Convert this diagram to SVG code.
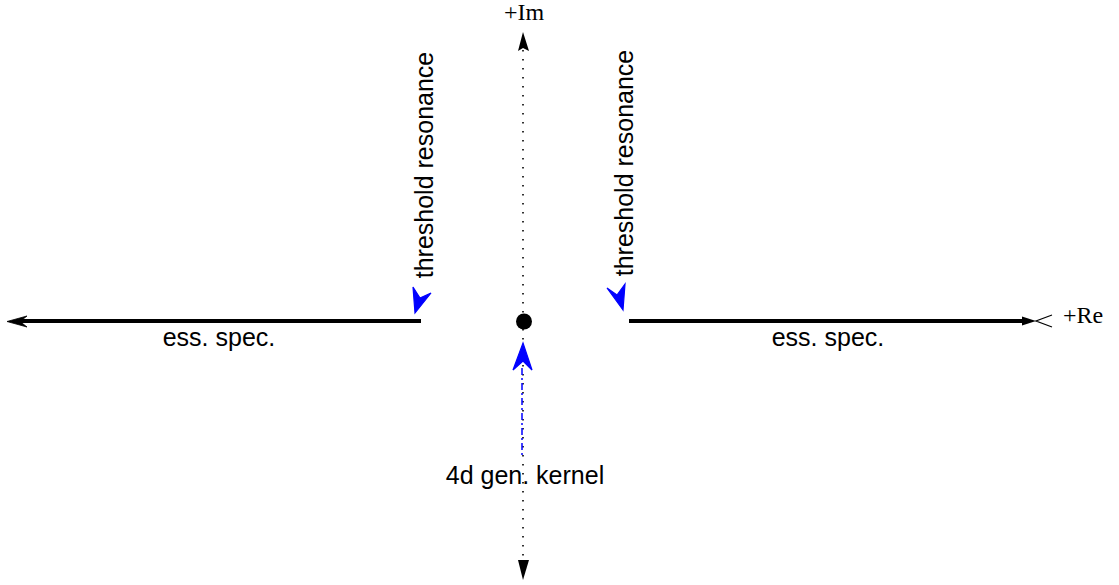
<svg xmlns="http://www.w3.org/2000/svg" width="1119" height="585" viewBox="0 0 1119 585">
<style>
.sans{font-family:"Liberation Sans",Arial,sans-serif;font-size:25px;fill:#000}
.serif{font-family:"Liberation Serif","Times New Roman",serif;font-size:24px;fill:#000}
.axis{stroke:#000;stroke-width:1.6;stroke-dasharray:1.6 7.4;fill:none}
.thick{stroke:#000;stroke-width:4;fill:none}
.blue{fill:#0000ff;stroke:#0000ff;stroke-width:1.2}
</style>
<rect width="1119" height="585" fill="#fff"/>
<g id="connectors">
  <line class="axis" x1="523" y1="50" x2="523" y2="560"/>
  <polygon points="523,32 529,51 523,48 518,51" fill="#000"/>
  <polygon points="523,580 518,560 529,560" fill="#000"/>
  <line class="thick" x1="421" y1="321" x2="20" y2="321"/>
  <polygon points="27,316 7,321.5 27,327 20,321.5" fill="#000" stroke="#000" stroke-width="0.8"/>
  <line class="thick" x1="629" y1="321" x2="1024" y2="321"/>
  <polygon points="1022,316.5 1036,321 1022,325.5" fill="#000"/>
  <polyline points="1052,315 1036,321 1052,327" fill="none" stroke="#000" stroke-width="1.2"/>
  <line x1="522" y1="368" x2="522" y2="456" stroke="#0000ff" stroke-width="1.5" stroke-dasharray="7 3 2 3"/>
  <polygon class="blue" points="523,343 532,370 523,361 513,370"/>
  <polygon class="blue" points="415,313 413,287 420,298 431,293"/>
  <polygon class="blue" points="623,310 607,288 617,295 625,284"/>
</g>
<g id="origin"><circle cx="524" cy="321.5" r="8" fill="#000"/></g>
<g id="im-label"><text class="serif" x="524" y="20" text-anchor="middle">+Im</text></g>
<g id="re-label"><text class="serif" x="1063" y="323">+Re</text></g>
<g id="ess-left"><text class="sans" x="219" y="346" text-anchor="middle">ess. spec.</text></g>
<g id="ess-right"><text class="sans" x="828" y="346" text-anchor="middle">ess. spec.</text></g>
<g id="kernel"><text class="sans" x="525" y="484" text-anchor="middle">4d gen. kernel</text></g>
<g id="thr-left"><text class="sans" transform="translate(433,165) rotate(-90)" text-anchor="middle">threshold resonance</text></g>
<g id="thr-right"><text class="sans" transform="translate(633,163) rotate(-90)" text-anchor="middle">threshold resonance</text></g>
</svg>
